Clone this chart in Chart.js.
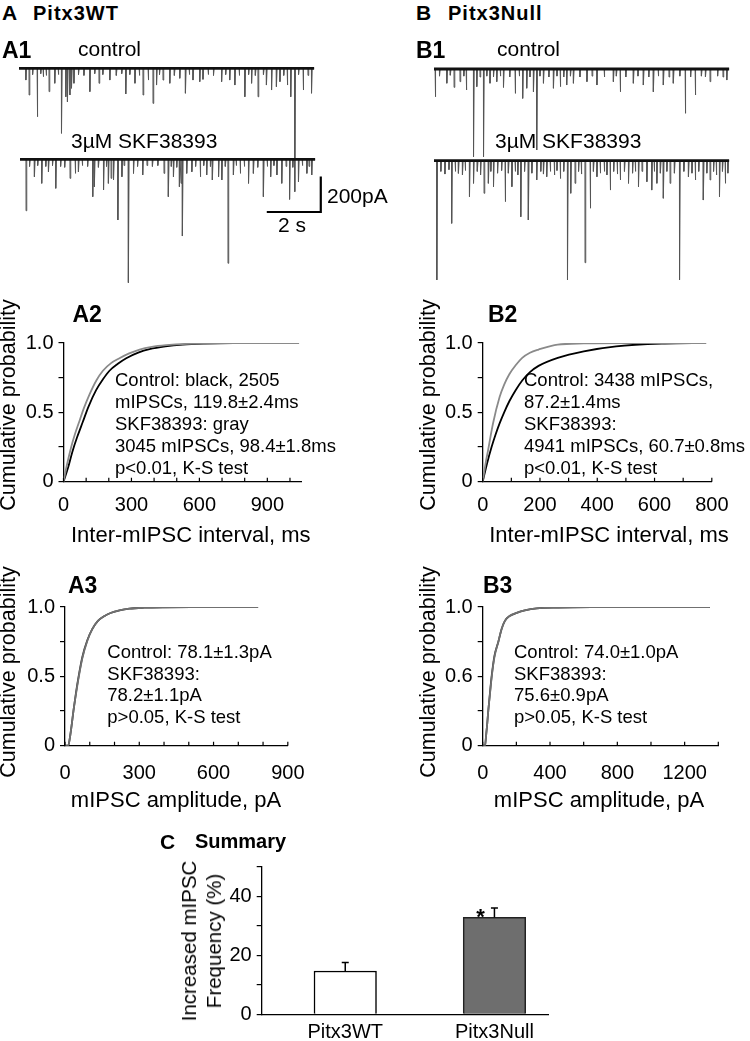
<!DOCTYPE html>
<html>
<head>
<meta charset="utf-8">
<script src="https://cdn.jsdelivr.net/npm/chart.js@4.4.1/dist/chart.umd.min.js"></script>
<style>
body { margin: 0; background: #fff; }
#fig { position: relative; width: 750px; height: 1041px; overflow: hidden; font-family: "Liberation Sans", Arial, sans-serif; color: #000; }
#fig canvas { position: absolute; }
.t { position: absolute; white-space: nowrap; line-height: 1; }
.b { font-weight: bold; }
.c { transform: translate(-50%, -50%); }
.r { transform: translate(-50%, -50%) rotate(-90deg); }
.note { position: absolute; white-space: nowrap; font-size: 18.5px; }
</style>
</head>
<body>
<div id="fig">
  <canvas id="a1ctl" width="300" height="140" style="left:19px;top:60px"></canvas>
  <canvas id="a1skf" width="305" height="140" style="left:20px;top:150px"></canvas>
  <canvas id="b1ctl" width="300" height="110" style="left:434px;top:60px"></canvas>
  <canvas id="b1skf" width="300" height="140" style="left:434px;top:150px"></canvas>
  <canvas id="a2" width="320" height="200" style="left:0px;top:326px"></canvas>
  <canvas id="b2" width="330" height="200" style="left:410px;top:326px"></canvas>
  <canvas id="a3" width="320" height="200" style="left:0px;top:590px"></canvas>
  <canvas id="b3" width="330" height="200" style="left:410px;top:590px"></canvas>
  <canvas id="summary" width="420" height="191" style="left:160px;top:850px"></canvas>

  <div class="t b" style="left:2px;top:2px;font-size:21px">A</div>
  <div class="t b" style="left:33px;top:3px;font-size:20px;letter-spacing:1px">Pitx3WT</div>
  <div class="t b" style="left:416px;top:2px;font-size:21px">B</div>
  <div class="t b" style="left:448px;top:3px;font-size:20px;letter-spacing:1px">Pitx3Null</div>
  <div class="t b" style="left:2px;top:38.5px;font-size:23px">A1</div>
  <div class="t b" style="left:416px;top:38.5px;font-size:23px">B1</div>
  <div class="t" style="left:78px;top:37.8px;font-size:21px">control</div>
  <div class="t" style="left:497px;top:37.8px;font-size:21px">control</div>
  <div class="t" style="left:71px;top:129.5px;font-size:21px">3µM SKF38393</div>
  <div class="t" style="left:495px;top:129.5px;font-size:21px">3µM SKF38393</div>
  <div class="t" style="left:327px;top:184.5px;font-size:21px">200pA</div>
  <div class="t" style="left:278px;top:213.5px;font-size:21px">2 s</div>

  <div class="t b" style="left:72.5px;top:302.5px;font-size:23px">A2</div>
  <div class="t b" style="left:488px;top:302.5px;font-size:23px">B2</div>
  <div class="t b" style="left:68px;top:573.5px;font-size:23px">A3</div>
  <div class="t b" style="left:483px;top:573.5px;font-size:23px">B3</div>

  <div class="t r" style="left:9px;top:405px;font-size:21.5px">Cumulative probability</div>
  <div class="t r" style="left:429px;top:405px;font-size:21.5px">Cumulative probability</div>
  <div class="t r" style="left:9px;top:672px;font-size:21.5px">Cumulative probability</div>
  <div class="t r" style="left:429px;top:672px;font-size:21.5px">Cumulative probability</div>
  <div class="t c" style="left:190.8px;top:535px;font-size:22px">Inter-mIPSC interval, ms</div>
  <div class="t c" style="left:609px;top:535px;font-size:22px">Inter-mIPSC interval, ms</div>
  <div class="t c" style="left:176px;top:800px;font-size:22px">mIPSC amplitude, pA</div>
  <div class="t c" style="left:599px;top:800px;font-size:22px">mIPSC amplitude, pA</div>

  <div class="note" style="left:115px;top:368.5px;line-height:22px">Control: black, 2505<br>mIPSCs, 119.8±2.4ms<br>SKF38393: gray<br>3045 mIPSCs, 98.4±1.8ms<br>p&lt;0.01, K-S test</div>
  <div class="note" style="left:524px;top:368.5px;line-height:22px">Control: 3438 mIPSCs,<br>87.2±1.4ms<br>SKF38393:<br>4941 mIPSCs, 60.7±0.8ms<br>p&lt;0.01, K-S test</div>
  <div class="note" style="left:107.3px;top:641px;line-height:21.7px">Control: 78.1±1.3pA<br>SKF38393:<br>78.2±1.1pA<br>p&gt;0.05, K-S test</div>
  <div class="note" style="left:514px;top:641px;line-height:21.7px">Control: 74.0±1.0pA<br>SKF38393:<br>75.6±0.9pA<br>p&gt;0.05, K-S test</div>

  <div class="t b" style="left:160px;top:830.5px;font-size:21px">C</div>
  <div class="t b" style="left:195px;top:831px;font-size:20px">Summary</div>
  <div class="t r" style="left:201px;top:941px;font-size:20.5px;line-height:25px;text-align:center">Increased mIPSC<br>Frequency (%)</div>
</div>

<script>
// ---- A1 / B1 raw traces: events as [time s, amplitude pA] ----
const traceEnd = 10.93;
const a1Control = [[0.25,66],[0.37,150],[0.50,35],[0.67,272],[0.80,30],[0.89,47],[1.00,40],[1.11,131],[1.32,84],[1.45,35],[1.57,365],[1.73,160],[1.79,188],[1.88,150],[1.94,112],[2.03,84],[2.20,35],[2.40,40],[2.62,131],[2.80,30],[2.96,84],[3.10,35],[3.36,66],[3.60,40],[3.80,30],[3.95,144],[4.10,35],[4.29,84],[4.45,40],[4.59,150],[4.78,66],[4.96,197],[5.09,94],[5.20,35],[5.33,66],[5.58,84],[5.75,40],[5.95,56],[6.16,140],[6.30,35],[6.44,66],[6.69,75],[6.81,62],[7.00,35],[7.20,40],[7.50,75],[7.65,35],[7.80,66],[7.99,94],[8.15,40],[8.36,160],[8.50,35],[8.61,84],[8.75,40],[8.85,160],[9.05,35],[9.16,94],[9.35,122],[9.53,103],[9.66,75],[9.80,40],[9.93,94],[10.06,160],[10.21,693],[10.35,35],[10.52,122],[10.70,40],[10.83,140]];
const a1Skf = [[0.22,289],[0.35,40],[0.53,98],[0.65,35],[0.80,135],[0.95,40],[1.05,70],[1.20,35],[1.32,163],[1.50,40],[1.65,45],[1.85,107],[2.04,79],[2.16,70],[2.30,35],[2.50,40],[2.69,210],[2.75,154],[2.90,45],[3.09,172],[3.20,40],[3.27,135],[3.37,107],[3.46,116],[3.62,341],[3.77,98],[3.85,35],[4.01,693],[4.20,79],[4.35,40],[4.54,88],[4.70,35],[4.90,40],[5.10,35],[5.33,79],[5.49,210],[5.60,40],[5.68,98],[5.80,45],[5.90,154],[5.96,135],[6.01,431],[6.17,79],[6.36,70],[6.50,40],[6.67,98],[6.80,35],[6.91,88],[7.05,40],[7.12,116],[7.35,98],[7.47,116],[7.60,40],[7.70,584],[7.90,88],[8.00,35],[8.15,79],[8.30,40],[8.46,135],[8.64,79],[8.80,45],[9.01,210],[9.15,40],[9.28,98],[9.40,35],[9.51,88],[9.69,135],[9.85,40],[9.98,225],[10.10,45],[10.31,126],[10.45,35],[10.62,79],[10.70,40],[10.80,88]];
const b1Control = [[0.04,156],[0.20,40],[0.47,80],[0.60,35],[0.74,103],[0.96,71],[1.10,40],[1.19,118],[1.46,493],[1.58,99],[1.70,45],[1.83,493],[1.95,40],[2.07,80],[2.20,45],[2.32,71],[2.45,40],[2.57,103],[2.80,45],[3.00,137],[3.15,40],[3.28,165],[3.43,108],[3.55,45],[3.68,128],[3.80,455],[3.92,40],[4.05,80],[4.25,45],[4.42,108],[4.55,40],[4.67,99],[4.80,45],[4.91,90],[5.05,40],[5.16,80],[5.40,45],[5.66,71],[5.85,40],[6.03,90],[6.30,45],[6.64,71],[6.75,40],[6.89,128],[7.10,45],[7.38,80],[7.55,40],[7.75,90],[7.95,45],[8.12,128],[8.30,40],[8.49,90],[8.70,45],[8.86,80],[9.10,40],[9.30,249],[9.50,45],[9.67,146],[9.90,40],[10.05,45],[10.22,71],[10.50,40],[10.70,45],[10.84,62]];
const b1Skf = [[0.10,670],[0.25,60],[0.40,75],[0.55,50],[0.65,352],[0.78,60],[0.90,71],[1.05,80],[1.15,55],[1.31,202],[1.46,127],[1.60,60],[1.72,80],[1.85,183],[2.01,127],[2.10,60],[2.20,146],[2.35,70],[2.50,55],[2.63,230],[2.75,70],[2.88,146],[3.00,60],[3.10,80],[3.21,315],[3.35,60],[3.49,333],[3.62,70],[3.80,108],[3.95,60],[4.05,75],[4.17,90],[4.30,60],[4.45,80],[4.55,55],[4.67,100],[4.80,60],[4.94,670],[5.06,183],[5.22,127],[5.35,60],[5.45,75],[5.59,573],[5.78,267],[5.90,60],[6.03,90],[6.15,70],[6.30,60],[6.40,80],[6.52,165],[6.65,60],[6.78,75],[6.89,108],[7.05,60],[7.20,127],[7.35,70],[7.45,60],[7.57,146],[7.70,60],[7.88,118],[8.06,165],[8.15,60],[8.25,127],[8.38,70],[8.49,211],[8.62,60],[8.74,127],[8.90,70],[9.09,670],[9.25,60],[9.42,90],[9.55,70],[9.67,108],[9.80,60],[9.97,221],[10.10,70],[10.22,108],[10.35,60],[10.45,80],[10.57,202],[10.68,60],[10.78,127],[10.88,70]];

// ---- A2 / B2 inter-event interval CDFs ----
const a2CtrlX = [0, 20, 40, 60, 85, 110, 144, 175, 203, 240, 277, 330, 380, 450, 527, 620, 750, 1040];
const a2CtrlY = [0, 0.10, 0.22, 0.32, 0.43, 0.54, 0.66, 0.74, 0.80, 0.85, 0.89, 0.93, 0.955, 0.975, 0.988, 0.995, 0.999, 1.0];
const a2SkfX = [0, 15, 34, 50, 71, 90, 115, 145, 174, 210, 247, 290, 336, 390, 453, 550, 700, 1040];
const a2SkfY = [0, 0.12, 0.25, 0.34, 0.44, 0.53, 0.63, 0.73, 0.80, 0.855, 0.89, 0.925, 0.953, 0.972, 0.984, 0.994, 0.999, 1.0];
const b2CtrlX = [0, 15, 31, 45, 59, 75, 93, 115, 138, 165, 195, 262, 353, 466, 636, 780];
const b2CtrlY = [0, 0.13, 0.25, 0.34, 0.42, 0.50, 0.58, 0.66, 0.73, 0.79, 0.835, 0.893, 0.94, 0.976, 0.996, 1.0];
const b2SkfX = [0, 10, 19, 36, 59, 75, 93, 115, 138, 165, 195, 262, 353, 500, 780];
const b2SkfY = [0, 0.13, 0.23, 0.42, 0.61, 0.70, 0.775, 0.84, 0.893, 0.93, 0.953, 0.989, 0.997, 1.0, 1.0];

// ---- A3 / B3 amplitude CDFs ----
const a3CtrlX = [0, 13, 20, 27, 34, 45, 55, 70, 90, 110, 133, 160, 184, 220, 260, 320, 400, 550, 780];
const a3CtrlY = [0, 0, 0.06, 0.15, 0.25, 0.39, 0.50, 0.64, 0.76, 0.84, 0.90, 0.935, 0.957, 0.975, 0.988, 0.995, 0.998, 0.999, 1.0];
const a3SkfX = [0, 13, 20, 27, 34, 45, 55, 70, 90, 110, 133, 160, 184, 220, 260, 320, 400, 550, 780];
const a3SkfY = [0, 0, 0.06, 0.15, 0.25, 0.38, 0.49, 0.63, 0.755, 0.84, 0.90, 0.935, 0.957, 0.976, 0.988, 0.995, 0.998, 0.999, 1.0];
const b3CtrlX = [0, 14, 20, 27, 33, 43, 53, 70, 93, 112, 132, 160, 202, 250, 321, 450, 700, 1000, 1350];
const b3CtrlY = [0, 0, 0.07, 0.16, 0.25, 0.38, 0.50, 0.65, 0.75, 0.84, 0.90, 0.935, 0.957, 0.975, 0.99, 0.996, 0.999, 1.0, 1.0];
const b3SkfX = [0, 14, 20, 27, 33, 43, 53, 70, 93, 112, 132, 160, 202, 250, 321, 450, 700, 1000, 1350];
const b3SkfY = [0, 0, 0.07, 0.16, 0.25, 0.37, 0.49, 0.64, 0.75, 0.84, 0.90, 0.935, 0.958, 0.976, 0.99, 0.996, 0.999, 1.0, 1.0];

// tick labels
const probTicks = [0, 0.5, 1];
const probLabels = ['0', '0.5', '1.0'];
const probLabelsB3 = ['0', '0.6', '1.0'];

// ---- C summary ----
const groups = ['Pitx3WT', 'Pitx3Null'];
const increase = [14.7, 32.9];
const sem = [2.9, 3.2];
const signif = ['', '*'];

// scale bar
const scaleBarS = 2;
const scaleBarPA = 200;

const PX_PER_S = 27;
const PX_PER_PA = 0.178;

Chart.defaults.font.family = '"Liberation Sans", Arial, sans-serif';
Chart.defaults.color = '#000';

function spikes(events) {
    let pts = [{x: 0, y: 0}];
    events.slice().sort((a, b) => a[0] - b[0]).forEach(([t, a]) => {
        pts.push({x: t, y: 0}, {x: t + 0.004, y: -a}, {x: t + 0.03, y: 0});
    });
    pts.push({x: traceEnd, y: 0});
    return pts;
}

let scaleBar = {
    id: 'scaleBar',
    afterDraw(c) {
        let xs = c.scales.x, ys = c.scales.y, ctx = c.ctx;
        let tEnd = 11.14, base = -296; // corner of the bar
        let x0 = xs.getPixelForValue(tEnd - scaleBarS), x1 = xs.getPixelForValue(tEnd);
        let y0 = ys.getPixelForValue(base), y1 = ys.getPixelForValue(base + scaleBarPA);
        ctx.save();
        ctx.strokeStyle = '#000';
        ctx.lineWidth = 2.2;
        ctx.beginPath();
        ctx.moveTo(x0, y0);
        ctx.lineTo(x1, y0);
        ctx.lineTo(x1, y1);
        ctx.stroke();
        ctx.restore();
    }
};

function traceChart(id, events, baseY, extra) {
    let cv = document.getElementById(id);
    let top = parseFloat(cv.style.top);
    return new Chart(cv, {
        type: 'scatter',
        data: {
            datasets: [
                {data: [{x: 0, y: 0}, {x: traceEnd, y: 0}], showLine: true, borderColor: '#111', borderWidth: 2.8, pointRadius: 0},
                {data: spikes(events), showLine: true, borderColor: '#555', borderWidth: 1, pointRadius: 0}
            ]
        },
        options: {
            responsive: false, animation: false, devicePixelRatio: 1,
            layout: {padding: 0, autoPadding: false},
            plugins: {legend: {display: false}, tooltip: {enabled: false}},
            scales: {
                x: {type: 'linear', display: false, min: 0, max: cv.width / PX_PER_S},
                y: {type: 'linear', display: false, min: -(top + cv.height - baseY) / PX_PER_PA, max: (baseY - top) / PX_PER_PA}
            }
        },
        plugins: extra ? [extra] : []
    });
}

let innerTicks = {
    id: 'innerTicks',
    afterDraw(c) {
        let xs = c.scales.x, ctx = c.ctx, b = c.chartArea.bottom;
        ctx.save();
        ctx.strokeStyle = '#000';
        ctx.lineWidth = 1.2;
        ctx.beginPath();
        xs.ticks.forEach(t => {
            let p = xs.getPixelForValue(t.value);
            ctx.moveTo(p, b);
            ctx.lineTo(p, b - 4);
        });
        ctx.stroke();
        ctx.restore();
    }
};

function cdfChart(id, curves, xMax, xStep, labelStep, yLabels, fit) {
    return new Chart(document.getElementById(id), {
        type: 'scatter',
        data: {
            datasets: curves.map(cv => ({
                data: cv.x.map((v, i) => ({x: v, y: cv.y[i]})),
                showLine: true, borderColor: cv.color, borderWidth: 1.8, pointRadius: 0,
                cubicInterpolationMode: 'monotone'
            }))
        },
        options: {
            responsive: false, animation: false, devicePixelRatio: 1,
            layout: {autoPadding: false, padding: {top: fit.top, right: fit.right, left: 0, bottom: 0}},
            plugins: {legend: {display: false}, tooltip: {enabled: false}},
            scales: {
                x: {
                    type: 'linear', min: 0, max: xMax,
                    border: {color: '#000', width: 1.3},
                    grid: {drawOnChartArea: false, drawTicks: false},
                    ticks: {
                        stepSize: xStep, includeBounds: false, autoSkip: false, maxRotation: 0,
                        padding: fit.xpad, font: {size: 20},
                        callback: v => v % labelStep === 0 ? String(v) : ''
                    },
                    afterFit: s => { s.height = fit.xh; }
                },
                y: {
                    type: 'linear', min: 0, max: 1,
                    border: {color: '#000', width: 1.3},
                    grid: {drawOnChartArea: false, tickLength: 5, color: '#000', lineWidth: 1.2},
                    ticks: {
                        stepSize: 0.25, autoSkip: false, padding: 5, font: {size: 20},
                        callback: v => { let i = probTicks.indexOf(v); return i < 0 ? '' : yLabels[i]; }
                    },
                    afterFit: s => { s.width = fit.yw; }
                }
            }
        },
        plugins: [innerTicks]
    });
}

let errBars = {
    id: 'errBars',
    afterDatasetsDraw(c) {
        let xs = c.scales.x, ys = c.scales.y, ctx = c.ctx;
        ctx.save();
        ctx.strokeStyle = '#000';
        ctx.lineWidth = 1.5;
        increase.forEach((m, i) => {
            let px = xs.getPixelForValue(i + 1);
            let y0 = ys.getPixelForValue(m), y1 = ys.getPixelForValue(m + sem[i]);
            ctx.beginPath();
            ctx.moveTo(px, y0);
            ctx.lineTo(px, y1);
            ctx.moveTo(px - 3.5, y1);
            ctx.lineTo(px + 3.5, y1);
            ctx.stroke();
            if (signif[i]) {
                ctx.fillStyle = '#000';
                ctx.font = 'bold 22px "Liberation Sans", Arial';
                ctx.textAlign = 'center';
                ctx.textBaseline = 'top';
                ctx.fillText(signif[i], px - 14, y1 - 1);
            }
        });
        ctx.restore();
    }
};

function summaryChart() {
    return new Chart(document.getElementById('summary'), {
        type: 'bar',
        data: {
            datasets: [{
                data: groups.map((g, i) => ({x: i + 1, y: increase[i]})),
                backgroundColor: ['#ffffff', '#6e6e6e'],
                borderColor: ['#000', '#222'],
                borderWidth: 1.5,
                barThickness: 62.5
            }]
        },
        options: {
            responsive: false, animation: false, devicePixelRatio: 1,
            layout: {autoPadding: false, padding: {top: 16.7, right: 32, left: 0, bottom: 0}},
            plugins: {legend: {display: false}, tooltip: {enabled: false}},
            scales: {
                x: {
                    type: 'linear', min: 0.44, max: 2.359, offset: false,
                    border: {color: '#000', width: 1.3},
                    grid: {drawOnChartArea: false, drawTicks: false, offset: false},
                    afterBuildTicks: s => { s.ticks = groups.map((g, i) => ({value: i + 1})); },
                    ticks: {autoSkip: false, maxRotation: 0, padding: 6, font: {size: 20},
                        callback: v => groups[Math.round(v) - 1]},
                    afterFit: s => { s.height = 26.7; }
                },
                y: {
                    type: 'linear', min: 0, max: 50,
                    border: {color: '#000', width: 1.3},
                    grid: {drawOnChartArea: false, tickLength: 5, color: '#000', lineWidth: 1.2},
                    ticks: {stepSize: 10, padding: 5, font: {size: 20},
                        callback: v => v % 20 === 0 ? String(v) : ''},
                    afterFit: s => { s.width = 101.7; }
                }
            }
        },
        plugins: [errBars]
    });
}

window.addEventListener('DOMContentLoaded', () => {
    traceChart('a1ctl', a1Control, 68.3);
    traceChart('a1skf', a1Skf, 159.3, scaleBar);
    traceChart('b1ctl', b1Control, 69);
    traceChart('b1skf', b1Skf, 160.7);

    cdfChart('a2', [
        {x: a2SkfX, y: a2SkfY, color: '#8a8a8a'},
        {x: a2CtrlX, y: a2CtrlY, color: '#000'}
    ], 1050, 100, 300, probLabels, {yw: 63.5, top: 15.7, right: 18.7, xh: 44.3, xpad: 11.5});
    cdfChart('b2', [
        {x: b2SkfX, y: b2SkfY, color: '#8a8a8a'},
        {x: b2CtrlX, y: b2CtrlY, color: '#000'}
    ], 800, 100, 200, probLabels, {yw: 72.7, top: 15.7, right: 21.7, xh: 44.3, xpad: 11.5});
    cdfChart('a3', [
        {x: a3SkfX, y: a3SkfY, color: '#707070'},
        {x: a3CtrlX, y: a3CtrlY, color: '#333'}
    ], 900, 100, 300, probLabels, {yw: 65, top: 15.7, right: 18.3, xh: 44.3, xpad: 15.5});
    cdfChart('b3', [
        {x: b3SkfX, y: b3SkfY, color: '#707070'},
        {x: b3CtrlX, y: b3CtrlY, color: '#333'}
    ], 1400, 200, 400, probLabelsB3, {yw: 72.7, top: 15.7, right: 21.7, xh: 44.3, xpad: 15.5});

    summaryChart();
});
</script>
</body>
</html>
